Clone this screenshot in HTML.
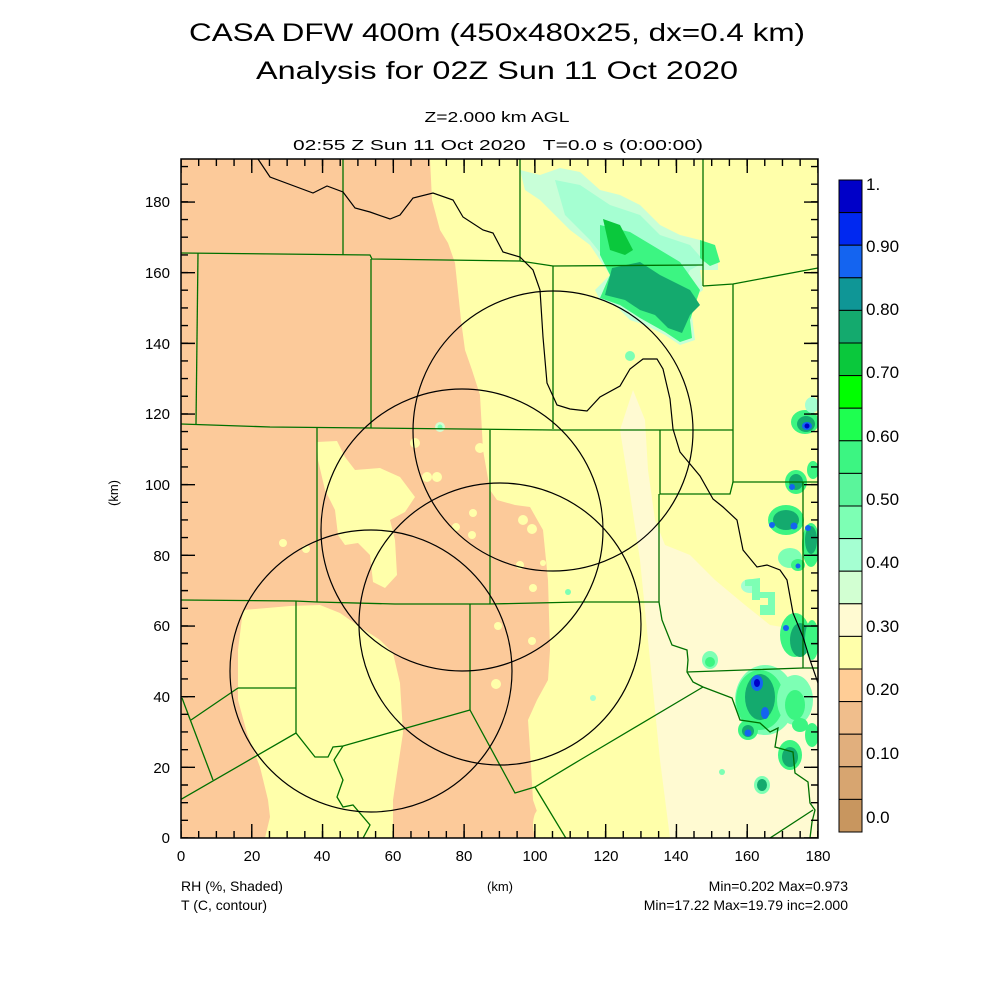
<!DOCTYPE html>
<html><head><meta charset="utf-8"><style>
html,body{margin:0;padding:0;background:#fff;}
svg{display:block;}
text{font-family:"Liberation Sans",sans-serif;fill:#000;}
</style></head><body>
<svg width="1000" height="1000" viewBox="0 0 1000 1000" xmlns="http://www.w3.org/2000/svg">
<rect width="1000" height="1000" fill="#fff"/>
<!-- titles -->
<text x="497" y="41" font-size="25" text-anchor="middle" textLength="616" lengthAdjust="spacingAndGlyphs">CASA DFW 400m (450x480x25, dx=0.4 km)</text>
<text x="497" y="79" font-size="25" text-anchor="middle" textLength="482" lengthAdjust="spacingAndGlyphs">Analysis for 02Z Sun 11 Oct 2020</text>
<text x="497" y="122" font-size="15" text-anchor="middle" textLength="145" lengthAdjust="spacingAndGlyphs">Z=2.000 km AGL</text>
<text x="498" y="150" font-size="15" text-anchor="middle" textLength="410" lengthAdjust="spacingAndGlyphs" xml:space="preserve">02:55 Z Sun 11 Oct 2020   T=0.0 s (0:00:00)</text>

<clipPath id="cp"><rect x="181" y="159" width="637" height="679"/></clipPath>
<g clip-path="url(#cp)">
<rect x="181" y="159" width="637" height="679" fill="#ffffaa"/>
<!-- pale region -->
<path d="M633,390 L645,420 L648,470 L655,520 L665,545 L690,555 L715,580 L745,605 L770,625 L800,630 L818,640 L818,838 L670,838 L660,760 L650,660 L640,560 L628,480 L620,430 Z" fill="#fffad2"/>
<!-- salmon -->
<path d="M181,159 L430,159 L432,200 L440,230 L448,243 L455,263 L461,320 L465,350 L472,370 L480,395 L483,450 L490,490 L497,500 L515,505 L530,507 L543,530 L548,580 L550,650 L548,680 L537,700 L528,720 L530,750 L533,800 L540,820 L545,838 L393,838 L393,800 L403,733 L400,683 L393,653 L380,640 L360,627 L340,613 L320,605 L290,606 L243,610 L238,650 L238,700 L247,733 L260,767 L268,800 L270,817 L265,838 L181,838 Z" fill="#fcca9a"/>
<!-- yellow blob -->
<path d="M317,442 L337,441 L345,457 L355,470 L380,468 L400,477 L415,497 L405,512 L390,520 L395,540 L397,575 L385,588 L373,582 L370,555 L358,543 L345,545 L338,535 L335,510 L325,490 L318,460 Z" fill="#ffffaa"/>
<ellipse cx="540" cy="825" rx="7" ry="16" fill="#ffffaa"/>
<g fill="#ffffaa">
<circle cx="415" cy="443" r="5"/><circle cx="427" cy="477" r="5"/><circle cx="437" cy="477" r="5"/><circle cx="480" cy="448" r="5"/>
<circle cx="473" cy="513" r="4"/><circle cx="456" cy="527" r="4"/><circle cx="472" cy="535" r="4"/><circle cx="523" cy="520" r="5"/>
<circle cx="532" cy="529" r="5"/><circle cx="520" cy="565" r="4"/><circle cx="533" cy="588" r="4"/><circle cx="498" cy="626" r="4"/>
<circle cx="532" cy="641" r="4"/><circle cx="496" cy="684" r="5"/><circle cx="283" cy="543" r="4"/><circle cx="306" cy="549" r="4"/><circle cx="543" cy="563" r="3"/>
</g>
<circle cx="440" cy="427" r="5" fill="#d2ffd2"/><circle cx="440" cy="427" r="2.5" fill="#7dffb4"/>
<!-- NE cluster -->
<path d="M520,170 L540,175 L560,168 L580,172 L600,190 L620,195 L640,205 L660,225 L680,235 L700,240 L718,255 L718,270 L700,270 L703,290 L690,300 L695,340 L680,345 L665,335 L645,325 L630,320 L615,305 L600,300 L595,290 L610,275 L600,260 L590,245 L570,230 L555,215 L540,200 L525,190 Z" fill="#c8ffd8"/>
<path d="M555,180 L580,185 L610,205 L640,215 L660,235 L690,245 L705,262 L690,270 L680,290 L640,280 L610,265 L590,240 L565,215 Z" fill="#a5ffd2"/>
<path d="M600,225 L630,232 L660,250 L680,262 L700,290 L690,320 L692,338 L680,342 L665,332 L640,318 L620,305 L600,298 L610,275 L600,255 Z" fill="#3cf582"/>
<path d="M603,219 L620,225 L633,250 L625,255 L610,250 Z" fill="#0ac83c"/>
<path d="M612,268 L640,262 L660,275 L690,290 L700,305 L690,315 L682,333 L668,328 L655,315 L640,310 L625,300 L605,295 Z" fill="#14aa6e"/>
<path d="M700,240 L715,245 L720,262 L710,266 L700,258 Z" fill="#3cf582"/>
<circle cx="630" cy="356" r="5" fill="#7dffb4"/>
<!-- east blobs -->
<g>
<ellipse cx="805" cy="422" rx="14" ry="12" fill="#3cf582"/><ellipse cx="806" cy="424" rx="9" ry="8" fill="#14aa6e"/><ellipse cx="807" cy="426" rx="5" ry="4" fill="#1464f0"/><circle cx="807" cy="426" r="2.5" fill="#0000c8"/>
<ellipse cx="812" cy="405" rx="7" ry="8" fill="#a5ffd2"/>
<ellipse cx="796" cy="482" rx="11" ry="12" fill="#3cf582"/><ellipse cx="796" cy="482" rx="7" ry="8" fill="#14aa6e"/><circle cx="792" cy="487" r="3" fill="#1464f0"/>
<ellipse cx="813" cy="470" rx="6" ry="9" fill="#3cf582"/>
<ellipse cx="786" cy="520" rx="18" ry="15" fill="#3cf582"/><ellipse cx="786" cy="520" rx="13" ry="10" fill="#14aa6e"/><circle cx="772" cy="525" r="3" fill="#1464f0"/><circle cx="794" cy="526" r="3.5" fill="#1464f0"/>
<ellipse cx="811" cy="545" rx="9" ry="22" fill="#3cf582"/><ellipse cx="811" cy="540" rx="6" ry="14" fill="#14aa6e"/><circle cx="808" cy="528" r="3" fill="#1464f0"/>
<ellipse cx="790" cy="558" rx="12" ry="10" fill="#7dffb4"/><ellipse cx="798" cy="565" rx="7" ry="6" fill="#3cf582"/><circle cx="798" cy="566" r="2.5" fill="#1464f0"/>
<ellipse cx="750" cy="586" rx="9" ry="7" fill="#a5ffd2"/>
<path d="M745,580 L760,578 L760,600 L752,600 L752,586 L745,586 Z" fill="#7dffb4"/>
<path d="M758,592 L775,592 L775,615 L760,615 L760,605 L768,605 L768,598 L758,598 Z" fill="#7dffb4"/>
<ellipse cx="795" cy="635" rx="15" ry="22" fill="#3cf582"/><ellipse cx="800" cy="640" rx="10" ry="17" fill="#14aa6e"/><circle cx="786" cy="628" r="3" fill="#1464f0"/>
<ellipse cx="812" cy="640" rx="7" ry="20" fill="#3cf582"/>
<ellipse cx="710" cy="660" rx="8" ry="9" fill="#7dffb4"/><ellipse cx="710" cy="662" rx="5" ry="5" fill="#3cf582"/>
<ellipse cx="765" cy="700" rx="30" ry="35" fill="#7dffb4"/>
<ellipse cx="760" cy="700" rx="24" ry="30" fill="#3cf582"/>
<ellipse cx="760" cy="697" rx="15" ry="23" fill="#14aa6e"/>
<ellipse cx="795" cy="700" rx="18" ry="25" fill="#7dffb4"/><ellipse cx="795" cy="705" rx="10" ry="15" fill="#3cf582"/>
<ellipse cx="748" cy="730" rx="10" ry="10" fill="#3cf582"/><ellipse cx="748" cy="731" rx="6" ry="6" fill="#14aa6e"/><circle cx="748" cy="733" r="3.5" fill="#1464f0"/>
<ellipse cx="757" cy="683" rx="6" ry="8" fill="#1464f0"/><ellipse cx="757" cy="683" rx="3" ry="4" fill="#0000c8"/>
<ellipse cx="765" cy="713" rx="4" ry="6" fill="#1464f0"/>
<ellipse cx="790" cy="755" rx="12" ry="15" fill="#3cf582"/><ellipse cx="790" cy="757" rx="8" ry="10" fill="#14aa6e"/>
<ellipse cx="812" cy="735" rx="7" ry="12" fill="#3cf582"/>
<ellipse cx="800" cy="725" rx="8" ry="7" fill="#3cf582"/>
<ellipse cx="762" cy="785" rx="8" ry="9" fill="#7dffb4"/><ellipse cx="762" cy="785" rx="5" ry="6" fill="#14aa6e"/>
<circle cx="722" cy="772" r="3" fill="#7dffb4"/><circle cx="593" cy="698" r="3" fill="#a5ffd2"/><circle cx="568" cy="592" r="3" fill="#7dffb4"/>
</g>
<!-- county lines -->
<g fill="none" stroke="#007000" stroke-width="1.3">
<polyline points="181,253 370,255 372,259 520,261 553,266 703,265"/>
<polyline points="703,286 733,284 818,268"/>
<line x1="343" y1="159" x2="343" y2="255"/>
<line x1="520" y1="159" x2="520" y2="261"/>
<line x1="703" y1="159" x2="703" y2="286"/>
<line x1="553" y1="266" x2="553" y2="429"/>
<polyline points="181,424 270,427 370,428 553,430 733,430"/>
<polyline points="733,284 733,482 818,482"/>
<polyline points="660,430 660,494 730,494 733,482"/>
<line x1="371" y1="259" x2="371" y2="428"/>
<polyline points="198,253 196,424"/>
<line x1="317" y1="428" x2="317" y2="602"/>
<line x1="490" y1="430" x2="490" y2="604"/>
<polyline points="181,600 295,601 317,602 395,604 490,604 580,602 659,602"/>
<line x1="659" y1="494" x2="659" y2="602"/>
<polyline points="296,601 296,733"/>
<polyline points="238,688 296,688"/>
<polyline points="182,698 213,780"/>
<polyline points="191,720 238,688"/>
<polyline points="180,800 296,733 315,757 328,757 333,747 343,746 470,710"/>
<line x1="470" y1="604" x2="470" y2="710"/>
<polyline points="470,710 515,793 535,787 580,760 703,687"/>
<polyline points="535,787 567,840"/>
<polyline points="343,746 334,760 343,780 337,797 343,807 353,805 370,825 362,840"/>
<polyline points="659,602 662,620 672,645 687,650 688,660 687,672 693,682 703,687 732,698 740,720 760,723 770,732 778,728 775,747 793,752 795,773 808,782 810,803 815,810 812,822 810,838"/>
<polyline points="687,672 803,668 818,668"/>
<line x1="803" y1="482" x2="803" y2="668"/>
<polyline points="767,840 813,810"/>
</g>
<!-- contour -->
<polyline fill="none" stroke="#000" stroke-width="1.2" points="258,159 270,177 313,193 327,186 343,192 355,208 370,212 390,219 400,215 413,198 433,193 453,200 463,217 483,230 493,233 503,252 520,257 533,270 540,290 543,337 547,383 557,405 570,409 587,411 600,397 620,386 630,369 643,359 657,359 663,369 670,399 673,429 680,452 700,476 713,499 723,507 737,520 743,550 757,567 767,565 780,570 787,580 793,613 803,637 810,660 818,683"/>
<!-- circles -->
<g fill="none" stroke="#000" stroke-width="1.2">
<circle cx="553" cy="431" r="140"/>
<circle cx="462" cy="530" r="141"/>
<circle cx="500" cy="624" r="141"/>
<circle cx="371" cy="671" r="141"/>
</g>
</g>
<!-- ticks -->
<g stroke="#000" fill="none">
<line x1="181" y1="162.5" x2="818" y2="162.5" stroke-width="7" stroke-dasharray="1.4 16.29" stroke-dashoffset="0.7"/>
<line x1="181" y1="166" x2="818" y2="166" stroke-width="14" stroke-dasharray="1.4 69.38" stroke-dashoffset="0.7"/>
<line x1="181" y1="834.5" x2="818" y2="834.5" stroke-width="7" stroke-dasharray="1.4 16.29" stroke-dashoffset="0.7"/>
<line x1="181" y1="831" x2="818" y2="831" stroke-width="14" stroke-dasharray="1.4 69.38" stroke-dashoffset="0.7"/>
<line x1="184.5" y1="838" x2="184.5" y2="159" stroke-width="7" stroke-dasharray="1.4 16.27" stroke-dashoffset="0.7"/>
<line x1="188" y1="838" x2="188" y2="159" stroke-width="14" stroke-dasharray="1.4 69.26" stroke-dashoffset="0.7"/>
<line x1="814.5" y1="838" x2="814.5" y2="159" stroke-width="7" stroke-dasharray="1.4 16.27" stroke-dashoffset="0.7"/>
<line x1="811" y1="838" x2="811" y2="159" stroke-width="14" stroke-dasharray="1.4 69.26" stroke-dashoffset="0.7"/>
<rect x="181" y="159" width="637" height="679" stroke-width="1.5"/>
</g>
<!-- axis labels -->
<g font-size="15" text-anchor="middle">
<text x="181" y="861">0</text><text x="252" y="861">20</text><text x="322" y="861">40</text><text x="393" y="861">60</text><text x="464" y="861">80</text>
<text x="535" y="861">100</text><text x="606" y="861">120</text><text x="676" y="861">140</text><text x="747" y="861">160</text><text x="818" y="861">180</text>
</g>
<g font-size="15" text-anchor="end">
<text x="170" y="843">0</text><text x="170" y="773">20</text><text x="170" y="702">40</text><text x="170" y="631">60</text><text x="170" y="561">80</text>
<text x="170" y="490">100</text><text x="170" y="419">120</text><text x="170" y="349">140</text><text x="170" y="278">160</text><text x="170" y="207">180</text>
</g>
<text x="118" y="493" font-size="13" text-anchor="middle" transform="rotate(-90 118 493)">(km)</text>
<text x="500" y="891" font-size="13" text-anchor="middle">(km)</text>
<text x="181" y="891" font-size="14">RH (%, Shaded)</text>
<text x="181" y="910" font-size="14">T (C, contour)</text>
<text x="848" y="891" font-size="14" text-anchor="end">Min=0.202 Max=0.973</text>
<text x="848" y="910" font-size="14" text-anchor="end">Min=17.22 Max=19.79 inc=2.000</text>
<!-- colorbar -->
<g stroke="#000" stroke-width="1">
<rect x="839" y="180" width="23" height="32.6" fill="#0000c8"/>
<rect x="839" y="212.6" width="23" height="32.6" fill="#0028f0"/>
<rect x="839" y="245.2" width="23" height="32.6" fill="#1464f0"/>
<rect x="839" y="277.8" width="23" height="32.6" fill="#0f9696"/>
<rect x="839" y="310.4" width="23" height="32.6" fill="#14aa6e"/>
<rect x="839" y="343" width="23" height="32.6" fill="#0ac83c"/>
<rect x="839" y="375.6" width="23" height="32.6" fill="#00ff00"/>
<rect x="839" y="408.2" width="23" height="32.6" fill="#1eff50"/>
<rect x="839" y="440.8" width="23" height="32.6" fill="#3cf582"/>
<rect x="839" y="473.4" width="23" height="32.6" fill="#5af59b"/>
<rect x="839" y="506" width="23" height="32.6" fill="#7dffb4"/>
<rect x="839" y="538.6" width="23" height="32.6" fill="#a5ffd2"/>
<rect x="839" y="571.2" width="23" height="32.6" fill="#d2ffd2"/>
<rect x="839" y="603.8" width="23" height="32.6" fill="#fffad2"/>
<rect x="839" y="636.4" width="23" height="32.6" fill="#ffffaa"/>
<rect x="839" y="669" width="23" height="32.6" fill="#ffcd96"/>
<rect x="839" y="701.6" width="23" height="32.6" fill="#f0be8c"/>
<rect x="839" y="734.2" width="23" height="32.6" fill="#e1af7d"/>
<rect x="839" y="766.8" width="23" height="32.6" fill="#d7a570"/>
<rect x="839" y="799.4" width="23" height="32.6" fill="#c8965f"/>
</g>
<g font-size="17">
<text x="866" y="190">1.</text><text x="866" y="252">0.90</text><text x="866" y="315">0.80</text><text x="866" y="378">0.70</text>
<text x="866" y="442">0.60</text><text x="866" y="505">0.50</text><text x="866" y="568">0.40</text><text x="866" y="632">0.30</text>
<text x="866" y="695">0.20</text><text x="866" y="759">0.10</text><text x="866" y="823">0.0</text>
</g>
</svg>
</body></html>
